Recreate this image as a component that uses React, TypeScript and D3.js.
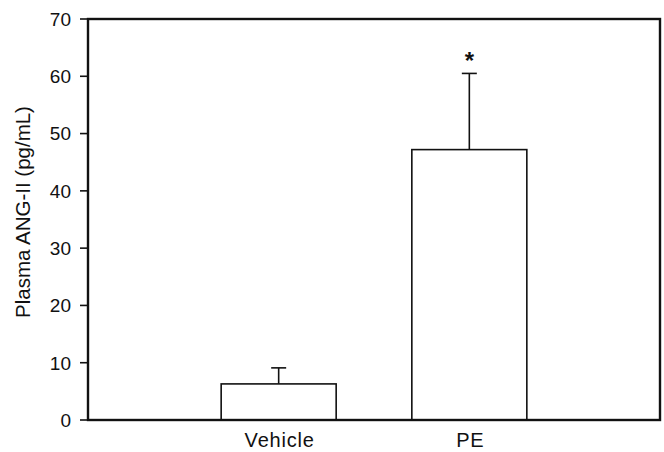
import { scaleLinear, scalePoint } from 'd3';

const categories = ['Vehicle', 'PE'];
const means = [6.3, 47.2];
const errors = [2.8, 13.3];
const marks = ['', '*'];
const yTicks = [0, 10, 20, 30, 40, 50, 60, 70];
const yLabel = 'Plasma ANG-II (pg/mL)';

const width = 664;
const height = 452;
const margin = { top: 19, right: 4, bottom: 32, left: 88 };
const font = '"Liberation Sans", Arial, sans-serif';

export default function App() {
  const x = scalePoint<string>()
    .domain(categories)
    .range([margin.left, width - margin.right])
    .padding(1);
  const y = scaleLinear()
    .domain([0, 70])
    .range([height - margin.bottom, margin.top]);
  const barW = 115;
  const capW = 15;
  const x0 = margin.left;
  const x1 = width - margin.right;
  const y0 = y(0);
  const y1 = y(70);

  return (
    <svg
      width={width}
      height={height}
      style={{ position: 'absolute', left: 0, top: 0, background: '#fff' }}
      fontFamily={font}
    >
      {categories.map((c, i) => {
        const cx = x(c) ?? 0;
        const top = y(means[i]);
        const eTop = y(means[i] + errors[i]);
        return (
          <g key={c}>
            <line x1={cx} x2={cx} y1={top} y2={eTop} stroke="#111" strokeWidth={1.6} />
            <line x1={cx - capW / 2} x2={cx + capW / 2} y1={eTop} y2={eTop} stroke="#111" strokeWidth={1.6} />
            <rect
              x={cx - barW / 2}
              y={top}
              width={barW}
              height={y0 - top}
              fill="#fff"
              stroke="#111"
              strokeWidth={1.6}
            />
            {marks[i] && (
              <text x={cx} y={eTop - 4} textAnchor="middle" fontSize={24} fontWeight="bold" fill="#111">
                {marks[i]}
              </text>
            )}
            <text x={cx + 1} y={447} textAnchor="middle" fontSize={20} letterSpacing={0.8} fill="#111">
              {c}
            </text>
          </g>
        );
      })}
      <rect x={x0} y={y1} width={x1 - x0} height={y0 - y1} fill="none" stroke="#111" strokeWidth={2.4} />
      {yTicks.map((t) => (
        <g key={t}>
          <line x1={x0 - 8} x2={x0} y1={y(t)} y2={y(t)} stroke="#111" strokeWidth={1.6} />
          <text x={x0 - 17} y={y(t)} dy="0.36em" textAnchor="end" fontSize={19} fill="#111">
            {t}
          </text>
        </g>
      ))}
      <text
        transform={`translate(30,212) rotate(-90)`}
        textAnchor="middle"
        fontSize={20.5}
        fill="#111"
      >
        {yLabel}
      </text>
    </svg>
  );
}
